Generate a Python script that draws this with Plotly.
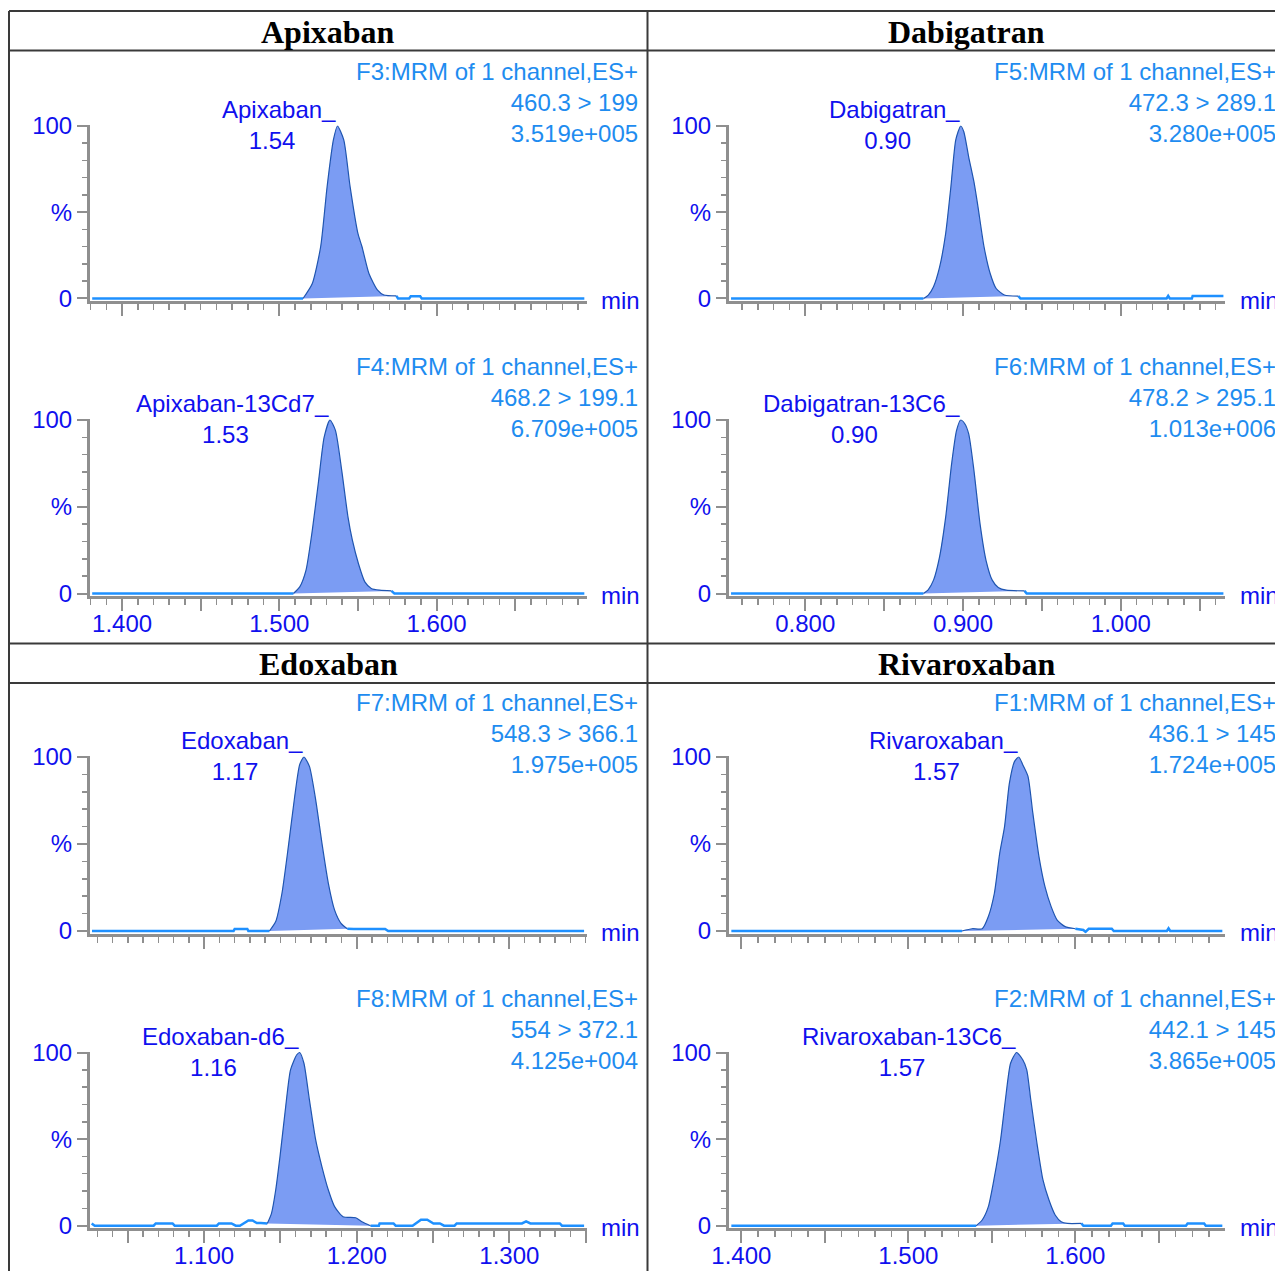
import numpy as np
import plotly.graph_objects as go

W, H = 1275, 1271
OFF = 0  # body margin removed by post_script below

# ---------------- text data ----------------
compounds = ["Apixaban", "Dabigatran", "Edoxaban", "Rivaroxaban"]
peak_names = ["Apixaban", "Apixaban-13Cd7", "Dabigatran", "Dabigatran-13C6",
              "Edoxaban", "Edoxaban-d6", "Rivaroxaban", "Rivaroxaban-13C6"]
peak_rt = ["1.54", "1.53", "0.90", "0.90", "1.17", "1.16", "1.57", "1.57"]
functions = ["F3:MRM of 1 channel,ES+", "F4:MRM of 1 channel,ES+",
             "F5:MRM of 1 channel,ES+", "F6:MRM of 1 channel,ES+",
             "F7:MRM of 1 channel,ES+", "F8:MRM of 1 channel,ES+",
             "F1:MRM of 1 channel,ES+", "F2:MRM of 1 channel,ES+"]
transitions = ["460.3 > 199", "468.2 > 199.1", "472.3 > 289.1", "478.2 > 295.1",
               "548.3 > 366.1", "554 > 372.1", "436.1 > 145", "442.1 > 145"]
max_counts = ["3.519e+005", "6.709e+005", "3.280e+005", "1.013e+006",
              "1.975e+005", "4.125e+004", "1.724e+005", "3.865e+005"]

apx_ticklabels = ["1.400", "1.500", "1.600"]
dab_ticklabels = ["0.800", "0.900", "1.000"]
edo_ticklabels = ["1.100", "1.200", "1.300"]
riv_ticklabels = ["1.400", "1.500", "1.600"]
y_ticklabels = ["0", "%", "100"]
y_tickvals = [0, 50, 100]

# ---------------- chromatogram data (time min, % intensity) ----------------
apx_t = [1.381, 1.5151, 1.521, 1.5263, 1.5304, 1.5344, 1.537, 1.541, 1.545, 1.550,
         1.5526, 1.557, 1.5625, 1.5665, 1.5745, 1.5755, 1.5826, 1.5836, 1.5896, 1.5906, 1.694]
apx_i = [0, 0, 8.7, 30, 64.8, 91.9, 100, 92, 65, 37.7,
         30, 14.5, 4.8, 2, 1.5, 0, 0, 1.3, 1.3, 0, 0]
apx_peak = (1.5151, 1.5745)

apxis_t = [1.381, 1.509, 1.513, 1.517, 1.521, 1.525, 1.5285, 1.5322, 1.5357, 1.5397,
           1.5437, 1.5464, 1.5504, 1.5544, 1.5585, 1.5638, 1.5713, 1.5732, 1.694]
apxis_i = [0, 0, 3.8, 13.5, 36.5, 65, 90, 100, 94, 71,
           44, 31, 17, 6.7, 2.9, 1.9, 1.5, 0, 0]
apxis_peak = (1.509, 1.5713)

dab_t = [0.753, 0.8749, 0.878, 0.8813, 0.8851, 0.889, 0.8923, 0.8954, 0.8985, 0.9005,
         0.9036, 0.9069, 0.9095, 0.9133, 0.9172, 0.921, 0.9262, 0.9351, 0.9364,
         1.0290, 1.0300, 1.0310, 1.0450, 1.0455, 1.0650]
dab_i = [0, 0, 2, 6.8, 18, 37.7, 64.8, 92, 100, 96.7,
         82, 67.7, 53, 30, 14.5, 5.8, 2, 1.4, 0,
         0, 1.5, 0, 0, 1.5, 1.5]
dab_peak = (0.8749, 0.9351)

dabis_t = [0.753, 0.8749, 0.878, 0.8813, 0.8851, 0.889, 0.8928, 0.8959, 0.8985, 0.901,
           0.9036, 0.9069, 0.9108, 0.9146, 0.9185, 0.9223, 0.9274, 0.939, 0.9403, 1.0650]
dabis_i = [0, 0, 2.3, 7.7, 21, 44, 75, 94, 100, 98,
           92, 71, 40, 19, 7.7, 3.5, 1.9, 1.5, 0, 0]
dabis_peak = (0.8749, 0.939)

edo_t = [1.0265, 1.1193, 1.1200, 1.1283, 1.129, 1.1428, 1.1469, 1.151, 1.1552, 1.1593,
         1.1626, 1.1654, 1.169, 1.1731, 1.1772, 1.1814, 1.1855, 1.1897, 1.1938, 1.198,
         1.2186, 1.2206, 1.349]
edo_i = [0, 0, 1.2, 1.2, 0, 0, 5.4, 21.7, 48.6, 77,
         95.6, 100, 94.6, 75.4, 50.5, 27.4, 12, 4.4, 1.3, 1.2,
         1.2, 0, 0]
edo_peak = (1.1428, 1.1938)

edois_t = [1.0263, 1.0283, 1.0669, 1.0683, 1.0793, 1.0807, 1.1083, 1.1097, 1.1179, 1.1207,
           1.1234, 1.129, 1.1317, 1.1345, 1.1372, 1.1414, 1.1441, 1.1469, 1.1497, 1.1532,
           1.1566, 1.1607, 1.1626, 1.1654, 1.169, 1.1731, 1.1772, 1.1814, 1.1855, 1.191,
           1.1993, 1.2034, 1.209, 1.2145, 1.2150, 1.2241, 1.2255, 1.2366, 1.2421, 1.2462,
           1.2503, 1.2545, 1.2572, 1.2641, 1.2655, 1.3083, 1.311, 1.3138, 1.3331, 1.3345, 1.349]
edois_i = [1.3, 0, 0, 1.3, 1.3, 0, 0, 1.3, 1.3, 0,
           0, 3.0, 3.0, 1.5, 1.5, 1.3, 7, 20.6, 39.9, 66.9,
           90, 98.7, 100, 93.8, 72.6, 49.5, 34, 20.6, 11, 5.2,
           4.6, 2.3, 0, 0, 1.3, 1.3, 0, 0, 3.5, 3.5,
           1.3, 1.3, 0, 0, 1.3, 1.3, 2.5, 1.3, 1.3, 0, 0]
edois_peak = (1.1414, 1.209)

riv_t = [1.394, 1.5321, 1.5382, 1.5442, 1.5479, 1.5515, 1.5547, 1.5576, 1.5605, 1.5636,
         1.5661, 1.5685, 1.5716, 1.5745, 1.5782, 1.5818, 1.5855, 1.5891, 1.5939, 1.6,
         1.6048, 1.6061, 1.608, 1.6218, 1.623, 1.6548, 1.6558, 1.6568, 1.688]
riv_i = [0, 0, 1.3, 1.3, 8.3, 21.7, 44.7, 60, 85, 97.5,
         100, 95.6, 89, 68, 42.8, 25.5, 14, 6.3, 2.5, 1.3,
         0.6, -0.5, 1.3, 1.3, 0, 0, 1.5, 0, 0]
riv_peak = (1.5321, 1.6)

rivis_t = [1.394, 1.5406, 1.5442, 1.5479, 1.5515, 1.5552, 1.5581, 1.5612, 1.5648, 1.5685,
           1.5709, 1.5733, 1.577, 1.5806, 1.5842, 1.5879, 1.5915, 1.5952, 1.6036, 1.6048,
           1.6213, 1.6223, 1.6286, 1.6296, 1.6662, 1.6672, 1.6771, 1.6781, 1.688]
rivis_i = [0, 0, 3.3, 11, 28, 49.5, 72.6, 93.8, 100, 95.8,
           90, 72.6, 47.6, 26.4, 14.8, 6.2, 2.3, 1.3, 1.3, 0,
           0, 1.3, 1.3, 0, 0, 1.3, 1.3, 0, 0]
rivis_peak = (1.5406, 1.6036)

# ---------------- styles / layout geometry ----------------
TICK_BLUE = "#1010ee"
INFO_BLUE = "#1e8cf0"
BASE_BLUE = "#1e90ff"
FILL = "#7b9cf3"
OUTLINE = "#1f55b0"
GRAY = "#8f8f8f"
GRID = "#3a3a3a"
SANS = "Arial, 'Liberation Sans', sans-serif"
SERIF = "'Times New Roman', 'Liberation Serif', serif"

col_px = [(90, 587), (729, 1225)]          # x-domain in screen pixels
row_px = [(126, 298.5), (420, 593.5), (757, 931), (1052.5, 1225.7)]  # (100%, 0%) screen pixels
xranges = {"apx": (1.3796, 1.6957), "dab": (0.7517, 1.0660),
           "edo": (1.0252, 1.3509), "riv": (1.3926, 1.6896)}
xlabels = {"apx": apx_ticklabels, "dab": dab_ticklabels,
           "edo": edo_ticklabels, "riv": riv_ticklabels}

panels = [
    ("apx", 0, 0, apx_t, apx_i, apx_peak),
    ("apx", 0, 1, apxis_t, apxis_i, apxis_peak),
    ("dab", 1, 0, dab_t, dab_i, dab_peak),
    ("dab", 1, 1, dabis_t, dabis_i, dabis_peak),
    ("edo", 0, 2, edo_t, edo_i, edo_peak),
    ("edo", 0, 3, edois_t, edois_i, edois_peak),
    ("riv", 1, 2, riv_t, riv_i, riv_peak),
    ("riv", 1, 3, rivis_t, rivis_i, rivis_peak),
]

fig = go.Figure()
annotations = []
layout_axes = {}

def px_x(p):
    return (p - OFF) / W

def px_y(p):
    return 1 - (p - OFF) / H

for k, (grp, col, row, ts, ys, (p0, p1)) in enumerate(panels):
    n = k + 1
    xa = "x" if n == 1 else f"x{n}"
    ya = "y" if n == 1 else f"y{n}"
    # baseline trace (outside integrated peak)
    bx, by = [], []
    gap_done = False
    for t, v in zip(ts, ys):
        if p0 < t < p1:
            if not gap_done:
                bx.append(None); by.append(None)
                gap_done = True
            continue
        bx.append(t); by.append(v)
    fig.add_trace(go.Scatter(x=bx, y=by, mode="lines", xaxis=xa, yaxis=ya,
                             line=dict(color=BASE_BLUE, width=2.5), hoverinfo="skip",
                             connectgaps=False, showlegend=False))
    px_ = [t for t in ts if p0 <= t <= p1]
    py_ = [v for t, v in zip(ts, ys) if p0 <= t <= p1]
    fig.add_trace(go.Scatter(x=px_, y=py_, mode="lines", xaxis=xa, yaxis=ya,
                             fill="toself", fillcolor=FILL,
                             line=dict(color=OUTLINE, width=1.2, shape="spline", smoothing=0.6),
                             hoverinfo="skip", showlegend=False))

    # axes
    y100, y0 = row_px[row]
    s = (y0 - y100) / 100.0
    top_px = y100 - 0.5 * s
    bot_px = y0 + 1.5 * s
    xlo, xhi = xranges[grp]
    majors = [round(v, 3) for v in np.arange(np.ceil(xlo / 0.05 - 1e-9) * 0.05, xhi + 1e-9, 0.05)]
    labs = xlabels[grp]
    texts = []
    for v in majors:
        m = [sl for sl in labs if abs(float(sl) - v) < 1e-6]
        texts.append(m[0] if m else "")
    show_lab = row in (1, 3)
    xkey = "xaxis" if n == 1 else f"xaxis{n}"
    ykey = "yaxis" if n == 1 else f"yaxis{n}"
    layout_axes[xkey] = dict(
        domain=[px_x(col_px[col][0]), px_x(col_px[col][1])], anchor=ya,
        range=[xlo, xhi], showgrid=False, zeroline=False, automargin=False,
        showline=True, linecolor=GRAY, linewidth=3,
        tickmode="array", tickvals=majors, ticktext=texts,
        ticks="outside", ticklen=12, tickwidth=2, tickcolor=GRAY,
        showticklabels=show_lab, ticklabelstandoff=-8,
        tickfont=dict(family=SANS, size=24, color=TICK_BLUE),
        minor=dict(tickmode="linear", tick0=0, dtick=0.01, ticks="outside",
                   ticklen=6, tickwidth=1.5, tickcolor=GRAY, showgrid=False),
        fixedrange=True,
    )
    layout_axes[ykey] = dict(
        domain=[px_y(bot_px), px_y(top_px)], anchor=xa,
        range=[-1.5, 100.5], showgrid=False, zeroline=False, automargin=False,
        showline=True, linecolor=GRAY, linewidth=3,
        tickmode="array", tickvals=y_tickvals, ticktext=y_ticklabels,
        ticks="outside", ticklen=10, tickwidth=2, tickcolor=GRAY,
        tickfont=dict(family=SANS, size=24, color=TICK_BLUE),
        minor=dict(tickmode="linear", tick0=0, dtick=10, ticks="outside",
                   ticklen=5, tickwidth=1.5, tickcolor=GRAY, showgrid=False),
        fixedrange=True,
    )

    # peak label (name + RT), underscore marks apex
    apex_t = ts[int(np.argmax(ys))]
    annotations.append(dict(
        xref=xa, yref=ya, x=apex_t, y=100, xanchor="right", yanchor="middle",
        xshift=-13, yshift=1, showarrow=False, align="center",
        text=f"{peak_names[k]}<br>{peak_rt[k]}",
        font=dict(family=SANS, size=24, color=TICK_BLUE)))
    annotations.append(dict(
        xref=xa, yref=ya, x=apex_t, y=100, xanchor="right", yanchor="middle",
        xshift=1, yshift=17, showarrow=False, text="_",
        font=dict(family=SANS, size=24, color=TICK_BLUE)))
    # function info
    right_px = 640 + col * 638
    annotations.append(dict(
        xref="paper", yref=ya, x=px_x(right_px), y=100, xanchor="right", yanchor="middle",
        yshift=23, showarrow=False, align="right",
        text=f"{functions[k]}<br>{transitions[k]}<br>{max_counts[k]}",
        font=dict(family=SANS, size=24, color=INFO_BLUE)))
    # "min" label
    annotations.append(dict(
        xref="paper", yref=ya, x=px_x(599 + col * 639), y=0, xanchor="left", yanchor="middle",
        yshift=-2, showarrow=False, text="min",
        font=dict(family=SANS, size=24, color=TICK_BLUE)))

# compound headers
hdr_pos = [(328, 32), (966, 32), (328, 664), (966, 664)]
for name, (hx, hy) in zip(compounds, hdr_pos):
    annotations.append(dict(
        xref="paper", yref="paper", x=px_x(hx), y=px_y(hy), xanchor="center", yanchor="middle",
        showarrow=False, text=f"<b>{name}</b>",
        font=dict(family=SERIF, size=32, color="#000000")))

# table grid lines
shapes = []
for (x0, y0_, x1, y1_) in [(9, 11, 1300, 11), (9, 50.5, 1300, 50.5), (9, 643.5, 1300, 643.5),
                           (9, 683, 1300, 683), (9, 11, 9, 1300), (647.5, 11, 647.5, 1300)]:
    shapes.append(dict(type="line", xref="paper", yref="paper",
                       x0=px_x(x0), y0=px_y(y0_), x1=px_x(x1), y1=px_y(y1_),
                       line=dict(color=GRID, width=2)))

fig.update_layout(
    width=W, height=H, margin=dict(l=0, r=0, t=0, b=0, autoexpand=False),
    paper_bgcolor="white", plot_bgcolor="white",
    showlegend=False, annotations=annotations, shapes=shapes,
    **layout_axes,
)

fig.write_html("out.html", config={"displayModeBar": False, "staticPlot": True},
               post_script="document.body.style.margin='0';document.body.style.overflow='hidden';")
